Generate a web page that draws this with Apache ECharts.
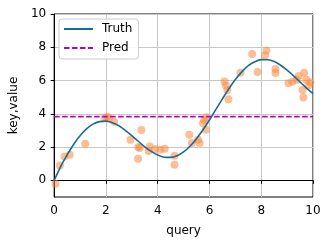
<!DOCTYPE html>
<html>
<head>
<meta charset="utf-8">
<script src="https://cdn.jsdelivr.net/npm/echarts@6/dist/echarts.min.js"></script>
<style>
  html, body { margin: 0; padding: 0; background: #fff; }
  #chart { width: 331px; height: 244px; }
</style>
</head>
<body>
<div id="chart"></div>
<script>
// training samples (x, y)
const sampleX = [0.05, 0.22, 0.4, 0.6, 1.2, 1.95, 2.05, 2.12, 2.32, 2.95,
                 3.37, 3.25, 3.3, 3.24, 3.69, 3.65, 3.9, 4.1, 4.27, 4.65,
                 4.65, 5.22, 5.32, 5.56, 5.62, 5.75, 5.86, 5.88, 5.8, 6.58,
                 6.63, 6.69, 6.73, 7.2, 7.65, 7.86, 8.15, 8.2, 8.55, 8.55,
                 9.05, 9.2, 9.37, 9.45, 9.66, 9.74, 9.6, 9.63, 9.82, 9.9];
const sampleY = [-0.2, 0.9, 1.44, 1.54, 2.2, 3.75, 3.82, 3.72, 3.53, 2.44,
                 3.02, 2.0, 1.95, 1.3, 2.04, 1.76, 1.88, 1.84, 1.9, 1.48,
                 0.94, 2.74, 2.24, 2.44, 2.24, 3.44, 3.04, 3.8, 3.63, 5.95,
                 5.7, 5.43, 4.88, 6.47, 7.59, 6.52, 7.5, 7.8, 6.7, 6.45,
                 5.83, 5.93, 6.05, 6.27, 6.47, 6.05, 5.43, 4.98, 5.7, 5.9];

// truth curve, read at 0.25 steps
const truthX = [0, 0.25, 0.5, 0.75, 1, 1.25, 1.5, 1.75, 2, 2.25, 2.5, 2.75, 3, 3.25,
                3.5, 3.75, 4, 4.25, 4.5, 4.75, 5, 5.25, 5.5, 5.75, 6, 6.25, 6.5,
                6.75, 7, 7.25, 7.5, 7.75, 8, 8.25, 8.5, 8.75, 9, 9.25, 9.5, 9.75, 10];
const truthY = [0, 0.83, 1.53, 2.16, 2.68, 3.09, 3.38, 3.53, 3.56, 3.47, 3.28, 3.01,
                2.69, 2.35, 2.02, 1.74, 1.52, 1.39, 1.38, 1.48, 1.71, 2.05, 2.5, 3.04,
                3.63, 4.27, 4.9, 5.51, 6.06, 6.52, 6.89, 7.13, 7.26, 7.25, 7.14, 6.92,
                6.62, 6.28, 5.91, 5.55, 5.22];

// prediction (average pooling) is flat
const predX = [0, 10];
const predY = [3.83, 3.83];

const xTicks = [0, 2, 4, 6, 8, 10];
const yTicks = [0, 2, 4, 6, 8, 10];

const font = 'DejaVu Sans';
const zip = (a, b) => a.map((v, i) => [v, b[i]]);

const chart = echarts.init(document.getElementById('chart'));
chart.setOption({
  animation: false,
  backgroundColor: '#fff',
  grid: { left: 52, right: 18, top: 14, bottom: 47, show: true, borderColor: '#000', borderWidth: 1 },
  legend: {
    orient: 'vertical', left: 59, top: 19,
    padding: [4, 6, 5, 4], itemGap: 7,
    itemWidth: 29, itemHeight: 14,
    backgroundColor: 'rgba(255,255,255,0.85)',
    borderColor: '#cccccc', borderWidth: 1, borderRadius: 3,
    itemStyle: { color: 'rgba(0,0,0,0)', borderColor: 'rgba(0,0,0,0)', borderWidth: 0 },
    textStyle: { fontFamily: font, fontSize: 12, color: '#000', padding: [0, 0, 0, 4] },
    data: ['Truth', 'Pred']
  },
  xAxis: {
    type: 'value', min: 0, max: 10, interval: 2,
    name: 'query', nameLocation: 'middle', nameGap: 28,
    nameTextStyle: { fontFamily: font, fontSize: 12, color: '#000' },
    axisLine: { lineStyle: { color: '#000' } },
    axisTick: { show: true, length: 3.5, lineStyle: { color: '#000' } },
    axisLabel: { fontFamily: font, fontSize: 12, color: '#000', margin: 8, customValues: xTicks },
    splitLine: { show: true, lineStyle: { color: '#c8c8c8', width: 1 } }
  },
  yAxis: {
    type: 'value', min: -1, max: 10,
    name: 'key,value', nameLocation: 'middle', nameGap: 33,
    nameTextStyle: { fontFamily: font, fontSize: 12, color: '#000' },
    axisLine: { show: true, lineStyle: { color: '#000' } },
    axisTick: { show: true, length: 3.5, lineStyle: { color: '#000' }, customValues: yTicks },
    axisLabel: { fontFamily: font, fontSize: 12, color: '#000', margin: 8, customValues: yTicks },
    splitLine: { show: true, lineStyle: { color: '#c8c8c8', width: 1 } }
  },
  series: [
    {
      name: 'Truth', type: 'line', smooth: 0.3, showSymbol: false, symbol: 'none',
      data: zip(truthX, truthY),
      lineStyle: { color: '#1a6b98', width: 1.6 },
      itemStyle: { color: '#1a6b98' },
      z: 3
    },
    {
      name: 'Pred', type: 'line', showSymbol: false, symbol: 'none',
      data: zip(predX, predY),
      lineStyle: { color: '#bf00bf', width: 1.6, type: [5.5, 2.5] },
      itemStyle: { color: '#bf00bf' },
      z: 3
    },
    {
      name: 'samples', type: 'scatter', symbolSize: 8,
      data: zip(sampleX, sampleY),
      itemStyle: { color: '#fa8a3e', opacity: 0.55 },
      z: 2
    }
  ]
});
</script>
</body>
</html>
